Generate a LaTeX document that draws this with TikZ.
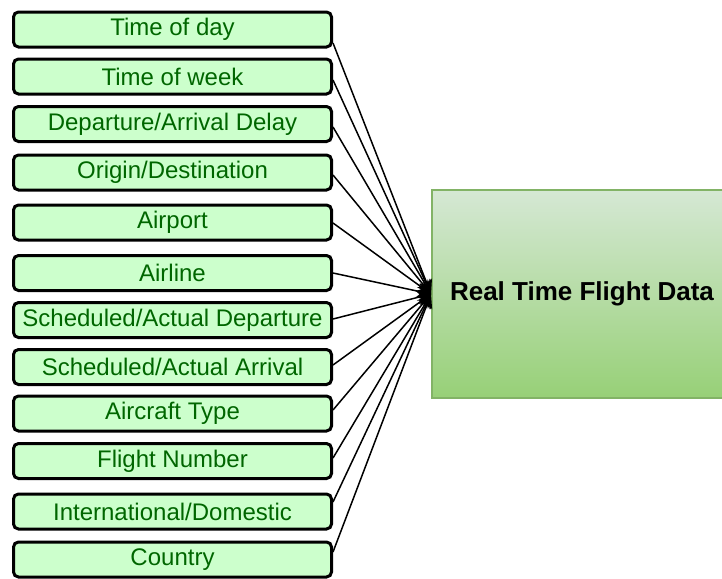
\documentclass[tikz,border=0pt]{standalone}
\usepackage{fontspec}
\setmainfont{Liberation Sans}
\usetikzlibrary{arrows.meta}
\definecolor{boxfill}{HTML}{CCFFCC}
\definecolor{boxtext}{HTML}{006600}
\definecolor{bigdraw}{HTML}{82B366}
\definecolor{bigtop}{HTML}{D5E8D4}
\definecolor{bigbot}{HTML}{97D077}
\begin{document}
\begin{tikzpicture}[x=0.5pt,y=-0.5pt,
  attr/.style={draw=black, line width=1.5pt, fill=boxfill, rounded corners=2.5pt,
    minimum width=159pt, minimum height=17.5pt, inner sep=0pt, text=boxtext,
    font=\fontsize{12}{14}\selectfont},
  bigbox/.style={draw=bigdraw, line width=1pt, top color=bigtop, bottom color=bigbot,
    minimum width=150pt, minimum height=104pt, inner sep=0pt,
    font=\fontsize{13}{15}\selectfont\bfseries},
  link/.style={draw=black, line width=0.75pt, -{Stealth[length=7pt,width=6.5pt]}}]
\useasboundingbox (0,0) rectangle (722,578);
\node[attr] (b1) at (172.5,29.5) {Time of day};
\node[attr] (b2) at (172.5,76.5) {Time of week};
\node[attr] (b3) at (172.5,124) {Departure/Arrival Delay};
\node[attr] (b4) at (172.5,172.5) {Origin/Destination};
\node[attr] (b5) at (172.5,222.5) {Airport};
\node[attr] (b6) at (172.5,273) {Airline};
\node[attr] (b7) at (172.5,320) {Scheduled/Actual Departure};
\node[attr] (b8) at (172.5,367) {Scheduled/Actual Arrival};
\node[attr] (b9) at (172.5,413.5) {Aircraft Type};
\node[attr] (b10) at (172.5,461) {Flight Number};
\node[attr] (b11) at (172.5,511.5) {International/Domestic};
\node[attr] (b12) at (172.5,559.5) {Country};
\node[bigbox] (big) at (582,294) {Real Time Flight Data};
\draw[link] ([yshift=-6.75pt]b1.east) -- (big.west);
\draw[link] ([yshift=-1.75pt]b2.east) -- (big.west);
\draw[link] ([yshift=-1.5pt]b3.east) -- (big.west);
\draw[link] ([yshift=-1.25pt]b4.east) -- (big.west);
\draw[link] ([yshift=-0.25pt]b5.east) -- (big.west);
\draw[link] (b6.east) -- (big.west);
\draw[link] ([yshift=0.5pt]b7.east) -- (big.west);
\draw[link] ([yshift=1pt]b8.east) -- (big.west);
\draw[link] ([yshift=1.75pt]b9.east) -- (big.west);
\draw[link] ([yshift=1.5pt]b10.east) -- (big.west);
\draw[link] ([yshift=4.75pt]b11.east) -- (big.west);
\draw[link] ([yshift=3.75pt]b12.east) -- (big.west);
\end{tikzpicture}
\end{document}
